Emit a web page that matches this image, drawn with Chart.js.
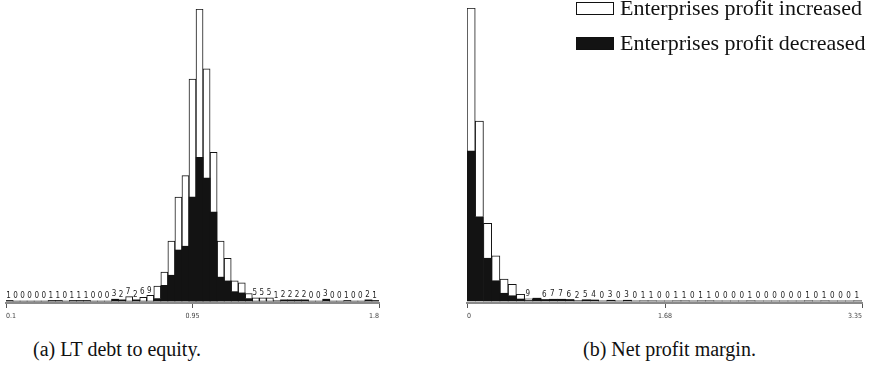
<!DOCTYPE html>
<html>
<head>
<meta charset="utf-8">
<script src="https://cdn.jsdelivr.net/npm/chart.js@4.4.1/dist/chart.umd.min.js"></script>
<style>
  html, body { margin: 0; padding: 0; background: #fff; }
  #wrap { position: relative; width: 871px; height: 377px; overflow: hidden; background: #fff; }
  canvas { position: absolute; top: 0; }
  #debtChart { left: 0; }
  #marginChart { left: 440px; }
  .cap { position: absolute; top: 339px; font: 20px "Liberation Serif", "Times New Roman", serif; color: #111; white-space: nowrap; line-height: 20px; }
  .lgBox { position: absolute; left: 576px; width: 36px; height: 11px; border: 1.5px solid #111; }
  .lgText { position: absolute; left: 620px; font: 22px "Liberation Serif", "Times New Roman", serif; color: #111; white-space: nowrap; line-height: 22px; }
</style>
</head>
<body>
<div id="wrap">
  <canvas id="debtChart" width="390" height="330"></canvas>
  <canvas id="marginChart" width="431" height="330"></canvas>
  <div id="legend"></div>
  <div class="cap" id="capA" style="left:33px"></div>
  <div class="cap" id="capB" style="left:583px"></div>
</div>
<script>
// Series names and panel captions
const seriesNames = ['Enterprises profit increased', 'Enterprises profit decreased'];
const captions = ['(a) LT debt to equity.', '(b) Net profit margin.'];

// (a) LT debt to equity: 53 equal-width bins over [0.1, 1.8]
const debtTicks = ['0.1', '0.95', '1.8'];
const debtIncreased = [
  0, 0, 0, 0, 0, 0, 0, 0, 0, 0,
  0, 0, 0, 0, 0, 0, 0, 7, 0, 6,
  9, 20, 21, 54, 84, 112, 187, 235, 173, 95,
  57, 36, 17, 16, 8, 5, 5, 5, 1, 0,
  0, 0, 0, 0, 0, 0, 0, 0, 0, 0,
  0, 0, 0
];
const debtDecreased = [
  1, 0, 0, 0, 0, 0, 1, 1, 0, 1,
  1, 1, 0, 0, 0, 3, 2, 0, 2, 0,
  0, 4, 25, 41, 81, 87, 165, 228, 195, 141,
  38, 32, 15, 13, 4, 0, 0, 0, 0, 2,
  2, 2, 2, 0, 0, 3, 0, 0, 1, 0,
  0, 2, 1
];

// (b) Net profit margin: 48 equal-width bins starting at 0
const marginTicks = ['0', '1.68', '3.35'];
const marginIncreased = [
  572, 383, 140, 100, 57, 46, 19, 7, 1, 0,
  0, 0, 0, 2, 0, 0, 0, 0, 0, 0,
  0, 1, 1, 0, 0, 1, 1, 0, 1, 1,
  0, 0, 0, 0, 1, 0, 0, 0, 0, 0,
  0, 1, 0, 1, 0, 0, 0, 1
];
const marginDecreased = [
  600, 337, 171, 81, 31, 21, 8, 2, 11, 6,
  7, 7, 6, 0, 5, 4, 0, 3, 0, 3,
  0, 0, 0, 0, 0, 0, 0, 0, 0, 0,
  0, 0, 0, 0, 0, 0, 0, 0, 0, 0,
  0, 0, 0, 0, 0, 0, 0, 0
];

const INK = '#131313';

// Prints the bin count just above any bar whose total is too small to read
const countLabels = {
  id: 'countLabels',
  afterDatasetsDraw(chart, args, opts) {
    const ctx = chart.ctx;
    const yScale = chart.scales.y;
    const dec = chart.data.datasets[0].data;
    const inc = chart.data.datasets[1].data;
    const bars = chart.getDatasetMeta(1).data;
    ctx.save();
    ctx.font = '8px "Liberation Sans Narrow", "DejaVu Sans Condensed", sans-serif';
    ctx.fillStyle = '#222';
    ctx.textAlign = 'center';
    ctx.textBaseline = 'bottom';
    bars.forEach((bar, i) => {
      const total = dec[i] + inc[i];
      if (total < opts.threshold) {
        ctx.fillText(String(total), bar.x - 1, yScale.getPixelForValue(total) - 1);
      }
    });
    ctx.restore();
  }
};

function histogram(canvasId, increased, decreased, tickLabels, yMin, yMax, pad) {
  const tickValues = tickLabels.map(Number);
  const bins = increased.map((_, i) => i);
  return new Chart(document.getElementById(canvasId), {
    type: 'bar',
    data: {
      labels: bins,
      datasets: [
        {
          label: seriesNames[1],
          data: decreased,
          backgroundColor: INK,
          borderWidth: 0,
          categoryPercentage: 1,
          barPercentage: 1
        },
        {
          label: seriesNames[0],
          data: increased,
          backgroundColor: '#ffffff',
          borderColor: INK,
          borderWidth: 1,
          borderSkipped: 'bottom',
          categoryPercentage: 1,
          barPercentage: 1
        }
      ]
    },
    options: {
      responsive: false,
      devicePixelRatio: 1,
      animation: false,
      layout: { padding: pad },
      plugins: {
        legend: { display: false },
        tooltip: { enabled: false },
        countLabels: { threshold: 10 }
      },
      scales: {
        x: { type: 'category', stacked: true, display: false },
        xv: {
          type: 'linear',
          position: 'bottom',
          offset: false,
          min: tickValues[0],
          max: tickValues[tickValues.length - 1],
          afterBuildTicks: (s) => { s.ticks = tickValues.map(v => ({ value: v })); },
          afterFit: (s) => { s.height = 20; },
          border: { display: true, color: '#8a8a8a', width: 2 },
          grid: { offset: false, drawOnChartArea: false, drawTicks: true, tickLength: 5, tickColor: '#555', tickWidth: 1 },
          ticks: {
            align: 'inner',
            maxRotation: 0,
            autoSkip: false,
            padding: 4,
            color: '#444',
            font: { family: '"Liberation Sans Narrow", "DejaVu Sans Condensed", sans-serif', size: 7 },
            callback: (v) => tickLabels[tickValues.indexOf(v)] ?? ''
          }
        },
        y: { stacked: true, display: false, min: yMin, max: yMax }
      }
    },
    plugins: [countLabels]
  });
}

histogram('debtChart', debtIncreased, debtDecreased, debtTicks, -3, 463,
  { left: 6, right: 11, top: 9, bottom: 7 });
histogram('marginChart', marginIncreased, marginDecreased, marginTicks, -8, 1172,
  { left: 27, right: 9, top: 8, bottom: 7 });

// Legend and captions
const legend = document.getElementById('legend');
const legendFill = ['#ffffff', INK];
seriesNames.forEach((name, i) => {
  const top = i === 0 ? 2 : 37;
  const box = document.createElement('div');
  box.className = 'lgBox';
  box.style.top = top + 'px';
  box.style.background = legendFill[i];
  legend.appendChild(box);
  const txt = document.createElement('div');
  txt.className = 'lgText';
  txt.style.top = (top - 5) + 'px';
  txt.textContent = name;
  legend.appendChild(txt);
});
document.getElementById('capA').textContent = captions[0];
document.getElementById('capB').textContent = captions[1];
</script>
</body>
</html>
